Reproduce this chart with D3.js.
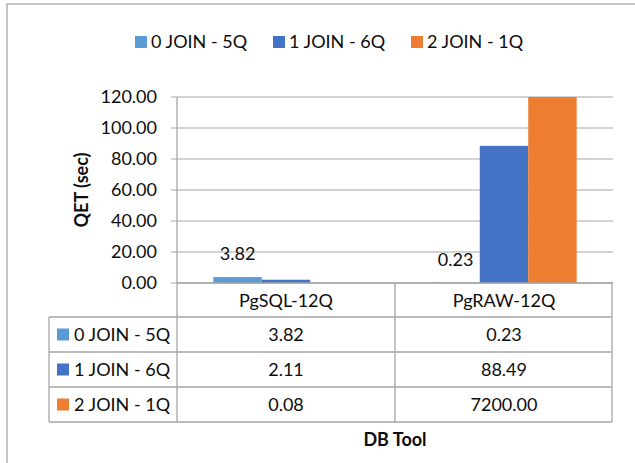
<!DOCTYPE html>
<html><head><meta charset="utf-8">
<script src="https://cdn.jsdelivr.net/npm/d3@7"></script>
<style>
html,body{margin:0;padding:0;background:#fff;}
text{font-family:Lato,"Open Sans",sans-serif;fill:#0d0d0d;}
</style></head>
<body>
<svg id="chart" width="635" height="463"></svg>
<script>
const categories = ["PgSQL-12Q", "PgRAW-12Q"];
const seriesNames = ["0 JOIN - 5Q", "1 JOIN - 6Q", "2 JOIN - 1Q"];
const series0 = [3.82, 0.23];
const series1 = [2.11, 88.49];
const series2 = [0.08, 7200.00];
const yTicks = [0, 20, 40, 60, 80, 100, 120];
const colors = ["#5B9BD5", "#4472C4", "#ED7D31"];
const allSeries = [series0, series1, series2];

(function () {
const svg = d3.select("#chart");
const fs = 18;
const grid = "#a6a6a6";

// outer frame
svg.append("rect").attr("x", 7).attr("y", 4).attr("width", 640).attr("height", 470)
  .attr("fill", "none").attr("stroke", "#b4b4b4").attr("stroke-width", 1.5);

const pLeft = 177, pRight = 613, pTop = 97, pBottom = 283;
const x = d3.scaleBand().domain(categories).range([pLeft, pRight]);
const bandW = x.bandwidth();
const barW = bandW / 4.5;
const xs = d3.scaleBand().domain(d3.range(3)).range([barW * 0.75, bandW - barW * 0.75]);
const y = d3.scaleLinear().domain([0, 120]).range([pBottom, pTop]).clamp(true);

// gridlines
svg.append("g").selectAll("line").data(yTicks).join("line")
  .attr("x1", pLeft - 6).attr("x2", pRight)
  .attr("y1", d => y(d)).attr("y2", d => y(d))
  .attr("stroke", grid).attr("stroke-width", 1);

// y tick labels
svg.append("g").selectAll("text").data(yTicks).join("text")
  .attr("x", 157).attr("y", d => y(d)).attr("dy", "0.35em")
  .attr("text-anchor", "end").attr("font-size", fs)
  .text(d => d3.format(".2f")(d));

// y title
svg.append("text").attr("transform", `translate(88,${(pTop + pBottom) / 2}) rotate(-90)`)
  .attr("text-anchor", "middle").attr("font-size", fs).attr("font-weight", "bold")
  .text("QET (sec)");

// bars
const barData = [];
allSeries.forEach((s, si) => s.forEach((v, ci) => barData.push({ si, ci, v })));
svg.append("g").selectAll("rect").data(barData).join("rect")
  .attr("x", d => x(categories[d.ci]) + xs(d.si))
  .attr("width", xs.bandwidth())
  .attr("y", d => y(d.v))
  .attr("height", d => y(0) - y(d.v))
  .attr("fill", d => colors[d.si]);

// data labels (series 0)
svg.append("g").selectAll("text").data(series0).join("text")
  .attr("x", (d, i) => x(categories[i]) + xs(0) + xs.bandwidth() / 2)
  .attr("y", d => y(d) - 23).attr("dy", "0.35em")
  .attr("text-anchor", "middle").attr("font-size", fs)
  .text(d => d3.format(".2f")(d));

// axis line & table lines
const rowH = 35;
const tTop = pBottom, hdrBottom = 317;
const rowsY = [hdrBottom, hdrBottom + rowH, hdrBottom + 2 * rowH, hdrBottom + 3 * rowH];
const tLeft = 49;
const lines = [
  [pLeft, pTop, pLeft, rowsY[3]],
  [x(categories[1]), tTop, x(categories[1]), rowsY[3]],
  [pRight - 1, tTop, pRight - 1, rowsY[3]],
  [tLeft, hdrBottom, tLeft, rowsY[3]],
  [pLeft, tTop, pRight, tTop],
];
rowsY.forEach(ry => lines.push([tLeft, ry, pRight - 1, ry]));
svg.append("g").selectAll("line").data(lines).join("line")
  .attr("x1", d => d[0]).attr("y1", d => d[1]).attr("x2", d => d[2]).attr("y2", d => d[3])
  .attr("stroke", grid).attr("stroke-width", 1.3);

// header
svg.append("g").selectAll("text").data(categories).join("text")
  .attr("x", d => x(d) + bandW / 2).attr("y", (tTop + hdrBottom) / 2 + 1).attr("dy", "0.35em")
  .attr("text-anchor", "middle").attr("font-size", fs).text(d => d);

// table rows
seriesNames.forEach((name, si) => {
  const cy = rowsY[si] + rowH / 2;
  svg.append("rect").attr("x", 57).attr("y", cy - 6).attr("width", 12).attr("height", 12).attr("fill", colors[si]);
  svg.append("text").attr("x", 74).attr("y", cy).attr("dy", "0.35em").attr("font-size", fs).text(name);
  categories.forEach((c, ci) => {
    svg.append("text").attr("x", x(c) + bandW / 2).attr("y", cy).attr("dy", "0.35em")
      .attr("text-anchor", "middle").attr("font-size", fs)
      .text(d3.format(".2f")(allSeries[si][ci]));
  });
});

// x title
svg.append("text").attr("x", (pLeft + pRight) / 2).attr("y", 440).attr("dy", "0.35em")
  .attr("text-anchor", "middle").attr("font-size", fs).attr("font-weight", "bold").text("DB Tool");

// legend
const lg = svg.append("g").selectAll("g").data(seriesNames).join("g")
  .attr("transform", (d, i) => `translate(${135 + i * 138},42)`);
lg.append("rect").attr("x", 0).attr("y", -6).attr("width", 12).attr("height", 12).attr("fill", (d, i) => colors[i]);
lg.append("text").attr("x", 16).attr("y", 0).attr("dy", "0.35em").attr("font-size", fs).text(d => d);
})();
</script>
</body></html>
